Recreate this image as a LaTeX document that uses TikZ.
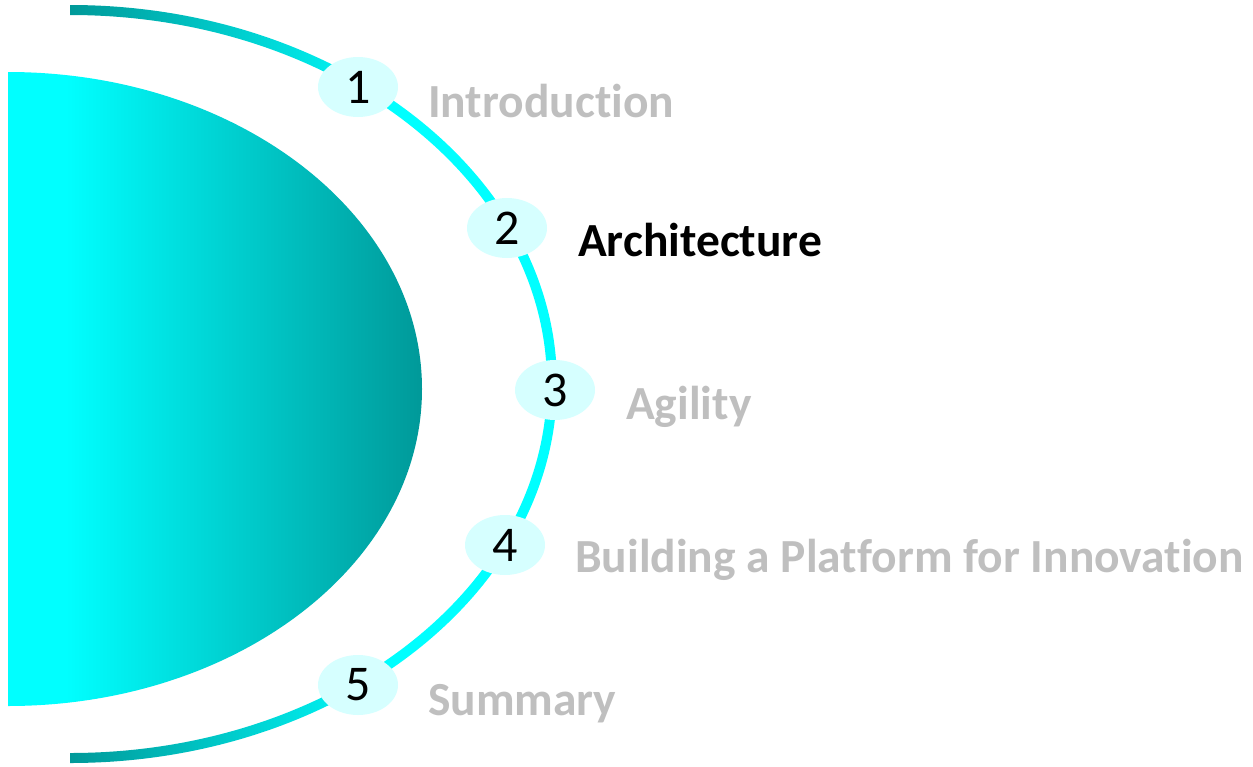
\documentclass[tikz,border=0pt]{standalone}
\usepackage{fontspec}
\setmainfont{Carlito}[Ligatures={NoCommon,NoRare}]
\usetikzlibrary{shapes.geometric}
\definecolor{tealA}{RGB}{0,153,153}
\definecolor{cyanA}{RGB}{0,255,255}
\definecolor{bubble}{RGB}{214,255,255}
\definecolor{labelgray}{RGB}{191,191,191}
\pgfdeclarehorizontalshading{arcshade}{100bp}{color(0bp)=(tealA); color(25bp)=(tealA); color(58bp)=(cyanA); color(100bp)=(cyanA)}
\pgfdeclarehorizontalshading{domeshade}{100bp}{color(0bp)=(cyanA); color(25bp)=(cyanA); color(32bp)=(cyanA); color(75bp)=(tealA); color(100bp)=(tealA)}
\tikzset{
  numbub/.style={ellipse, fill=bubble, minimum width=80pt, minimum height=60pt, inner sep=0pt,
    font=\fontsize{50}{56}\selectfont, text=black},
  lbl/.style={anchor=base west, inner sep=0pt, font=\fontsize{47.5}{56}\selectfont\bfseries, text=labelgray},
  lblon/.style={lbl, text=black}
}
\begin{document}
\begin{tikzpicture}[x=1pt,y=1pt]
\useasboundingbox (0,0) rectangle (1253,-766);
% dome
\shade[shading=domeshade] (8,-72) arc[start angle=90, end angle=-90, x radius=414, y radius=317] -- cycle;
% arc band
\shade[shading=arcshade] (70,-5) arc[start angle=90, end angle=-90, x radius=487, y radius=379]
  -- (70,-753) arc[start angle=-90, end angle=90, x radius=477, y radius=369] -- cycle;
% number bubbles
\node[numbub] (n1) at (358,-87) {1};
\node[numbub] (n2) at (507,-228) {2};
\node[numbub] (n3) at (555,-390) {3};
\node[numbub] (n4) at (505,-545) {4};
\node[numbub] (n5) at (358,-685) {5};
% labels
\node[lbl] (l1) at (428,-117) {Introduction};
\node[lblon] (l2) at (578,-256) {Architecture};
\node[lbl] (l3) at (626,-419) {Agility};
\node[lbl] (l4) at (575,-572) {Building a Platform for Innovation};
\node[lbl] (l5) at (428,-715) {Summary};
\end{tikzpicture}
\end{document}
